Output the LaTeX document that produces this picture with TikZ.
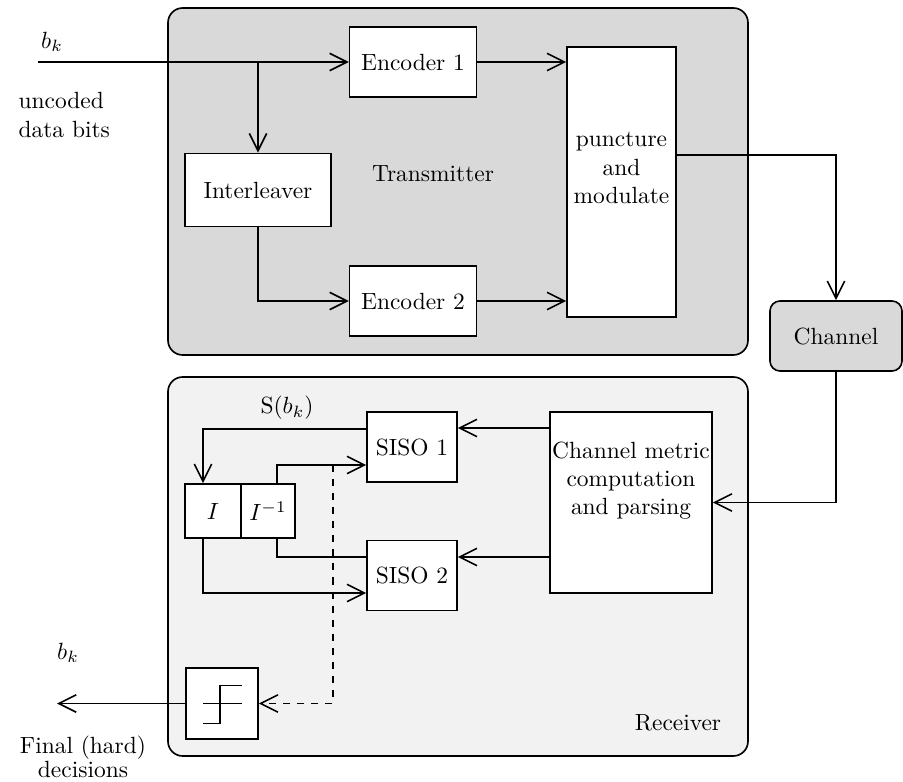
\documentclass[tikz,border=0pt]{standalone}
\usetikzlibrary{arrows.meta}

\def\unit{.15}
\tikzset{
  >={Straight Barb[length=2.6mm,width=2.6mm]},
  blk/.style={draw, fill=white, line width=0.7pt, inner sep=1pt, align=center},
  area/.style={draw, line width=0.7pt, rounded corners=2.2mm},
  wire/.style={line width=0.7pt},
}

\begin{document}
\begin{tikzpicture}[x=\unit cm, y=-\unit cm, wire]
      \useasboundingbox (0,0) rectangle (90.3,78.2);
      \draw[area, fill=gray!30] (16.8,0.8) rectangle (74.8,35.5);
      \draw[area, fill=gray!10] (16.8,37.7) rectangle (74.8,75.6);

      \node[blk, minimum width=1.9cm, minimum height=1.05cm] (enc1) at (41.3, 6.2) {Encoder 1};
      \node[blk, minimum width=1.9cm, minimum height=1.05cm] (enc2) at (41.3, 30.1) {Encoder 2};
      \node[blk, minimum width=2.19cm, minimum height=1.1cm] (intl) at (25.8, 19.0) {Interleaver};
      \node[blk, minimum width=1.635cm, minimum height=4.05cm] (punc) at (62.15, 18.2) {};
      \node[align=center] (punctxt) at ([yshift=0.21cm]punc.center) {puncture\\and\\modulate};
      \node[blk, fill=gray!30, rounded corners=1.5mm, minimum width=1.98cm, minimum height=1.05cm] (chan) at (83.6, 33.6) {Channel};
      \node[blk, minimum width=2.43cm, minimum height=2.72cm] (cmet) at (63.1, 50.25) {};
      \node[align=center, inner sep=0pt] (cmettxt) at ([yshift=0.33cm]cmet.center) {Channel metric\\computation\\and parsing};
      \node[blk, minimum width=1.35cm, minimum height=1.05cm] (siso1) at (41.2, 44.7) {SISO 1};
      \node[blk, minimum width=1.35cm, minimum height=1.05cm] (siso2) at (41.2, 57.55) {SISO 2};
      \node[blk, minimum width=0.84cm, minimum height=0.81cm] (ilv) at (21.3, 51.1) {$I$};
      \node[blk, minimum width=0.81cm, minimum height=0.81cm] (dilv) at (26.8, 51.1) {$I^{-1}$};
      \node[blk, minimum width=1.08cm, minimum height=1.07cm] (slicer) at (22.2, 70.35) {};
      \draw[shift={(slicer.center)}] (-1.9,0) -- (2.0,0);
      \draw[shift={(slicer.center)}] (-1.9,2.0) -- (-0.2,2.0) -- (-0.2,-1.8) -- (2.0,-1.8);

      \node (bkin) at (5.2, 4.2) {$b_k$};
      \node[anchor=west, align=left] (uncoded) at (1.0, 11.5) {uncoded\\data bits};
      \node (txlabel) at (43.3, 17.4) {Transmitter};
      \node (rxlabel) at (67.8, 72.3) {Receiver};
      \node (sbk) at (28.7, 40.8) {$\mathrm{S}(b_k)$};
      \node (bkout) at (6.8, 65.3) {$b_k$};
      \node[align=center] (final) at (8.3, 75.7) {Final (hard)\\[-2pt]decisions};

      \coordinate (in) at (3.8, 6.2);
      \coordinate (tap) at (intl |- in);
      \coordinate (pout) at (punc.east |- 0,15.5);
      \coordinate (dtap) at (33.3, 46.5);
      \coordinate (out) at (5.7, 70.35);

      \draw[->] (in) -- (enc1);
      \draw[->] (tap) -- (intl);
      \draw[->] (intl) |- (enc2);
      \draw[->] (enc1.east) -- (enc1.east -| punc.west);
      \draw[->] (enc2.east) -- (enc2.east -| punc.west);
      \draw[->] (pout) -| (chan);
      \draw[->] (chan) |- (cmet);
      \draw[->] (cmet.west |- 0,42.8) -- (siso1.east |- 0,42.8);
      \draw[->] (cmet.west |- 0,55.7) -- (siso2.east |- 0,55.7);
      \draw[->] (siso1.west |- 0,42.9) -| ([xshift=-0.15cm]ilv.north);
      \draw[->] ([xshift=0.135cm]dilv.north) |- (siso1.west |- 0,46.5);
      \draw ([xshift=0.135cm]dilv.south) |- (siso2.west |- 0,55.7);
      \draw[->] ([xshift=-0.15cm]ilv.south) |- (siso2.west |- 0,59.3);
      \draw[dashed, ->] (dtap) |- (slicer);
      \draw[->] (slicer) -- (out);
\end{tikzpicture}
\end{document}
